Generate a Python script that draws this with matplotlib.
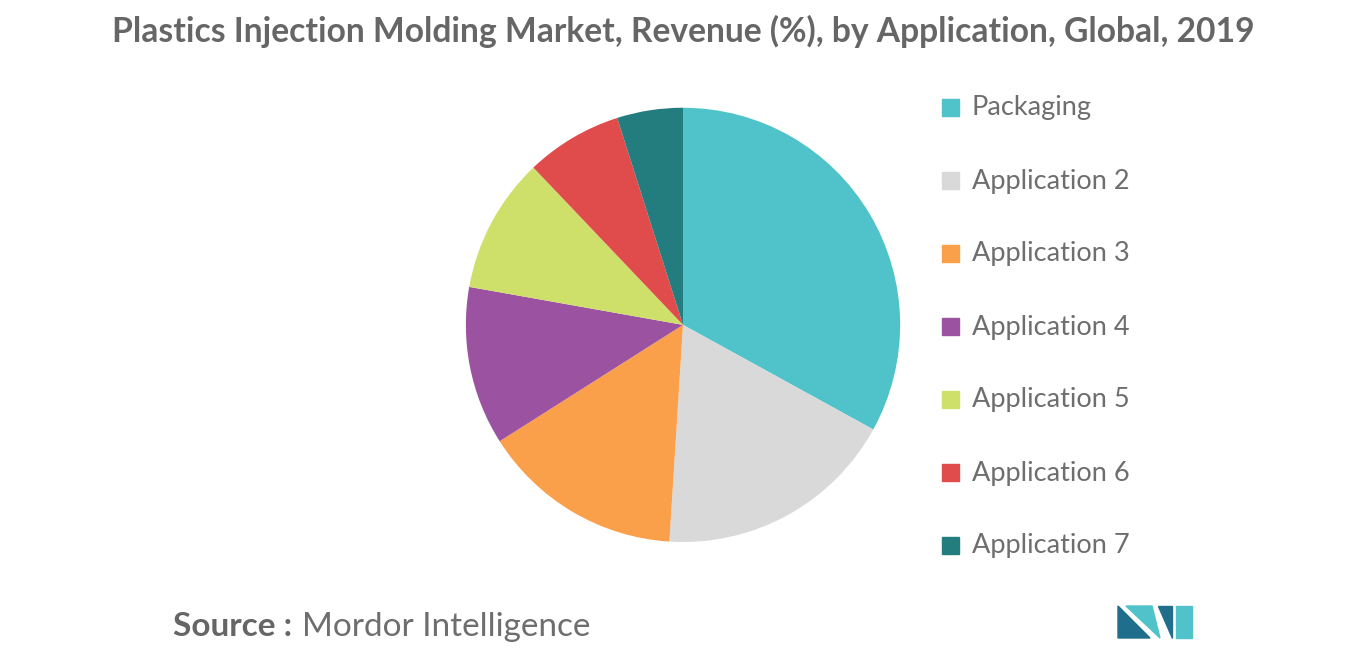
import matplotlib
matplotlib.use("Agg")
import matplotlib.pyplot as plt
from matplotlib.patches import Rectangle, Polygon

labels = ["Packaging", "Application 2", "Application 3", "Application 4",
          "Application 5", "Application 6", "Application 7"]
shares = [33.0, 18.0, 15.0, 11.8, 10.1, 7.2, 4.9]
colors = ["#4FC3C9", "#D9D9D9", "#FBA04A", "#9B52A0", "#CFE06A", "#E04B4B", "#237C7E"]

fig = plt.figure(figsize=(13.66, 6.55), dpi=100)
fig.patch.set_facecolor("white")

ax = fig.add_axes([0.5 - 0.159, 0.504 - 0.3315, 0.318, 0.663])
ax.pie(shares, colors=colors, startangle=90, counterclock=False,
       wedgeprops=dict(linewidth=0))
ax.set_xlim(-1, 1)
ax.set_ylim(-1, 1)
ax.set_aspect("equal")
ax.axis("off")

fig.text(0.5, 0.952, "Plastics Injection Molding Market, Revenue (%), by Application, Global, 2019",
         ha="center", va="center", fontsize=24.2, fontweight="bold", color="#666666", family="Lato")

# legend
for i, (lab, c) in enumerate(zip(labels, colors)):
    y = 1 - (108 + i * 73.0) / 655
    fig.patches.append(Rectangle((942 / 1366, y - 8 / 655), 17 / 1366, 17 / 655,
                                 transform=fig.transFigure, color=c))
    fig.text(972 / 1366, y, lab, ha="left", va="center", fontsize=19.5,
             color="#6E6E6E", family="Lato")

fig.text(173 / 1366, 1 - 627 / 655, "Source :", ha="left", va="center", fontsize=24,
         fontweight="bold", color="#666666", family="Lato")
fig.text(302 / 1366, 1 - 627 / 655, "Mordor Intelligence", ha="left", va="center", fontsize=24,
         color="#6E6E6E", family="Lato")

# logo
def px(pts):
    return [(x / 1366, 1 - y / 655) for x, y in pts]
fig.patches.append(Polygon(px([(1118, 638), (1118, 606), (1150, 638)]), transform=fig.transFigure, color="#1E6E8C"))
fig.patches.append(Polygon(px([(1126, 606), (1152, 606), (1160, 638)]), transform=fig.transFigure, color="#4FC3C9"))
fig.patches.append(Polygon(px([(1158, 606), (1172, 606), (1172, 638)]), transform=fig.transFigure, color="#1E6E8C"))
fig.patches.append(Polygon(px([(1176, 606), (1192, 606), (1192, 638), (1176, 638)]), transform=fig.transFigure, color="#4FC3C9"))

fig.savefig("out.png", dpi=100, facecolor="white")
